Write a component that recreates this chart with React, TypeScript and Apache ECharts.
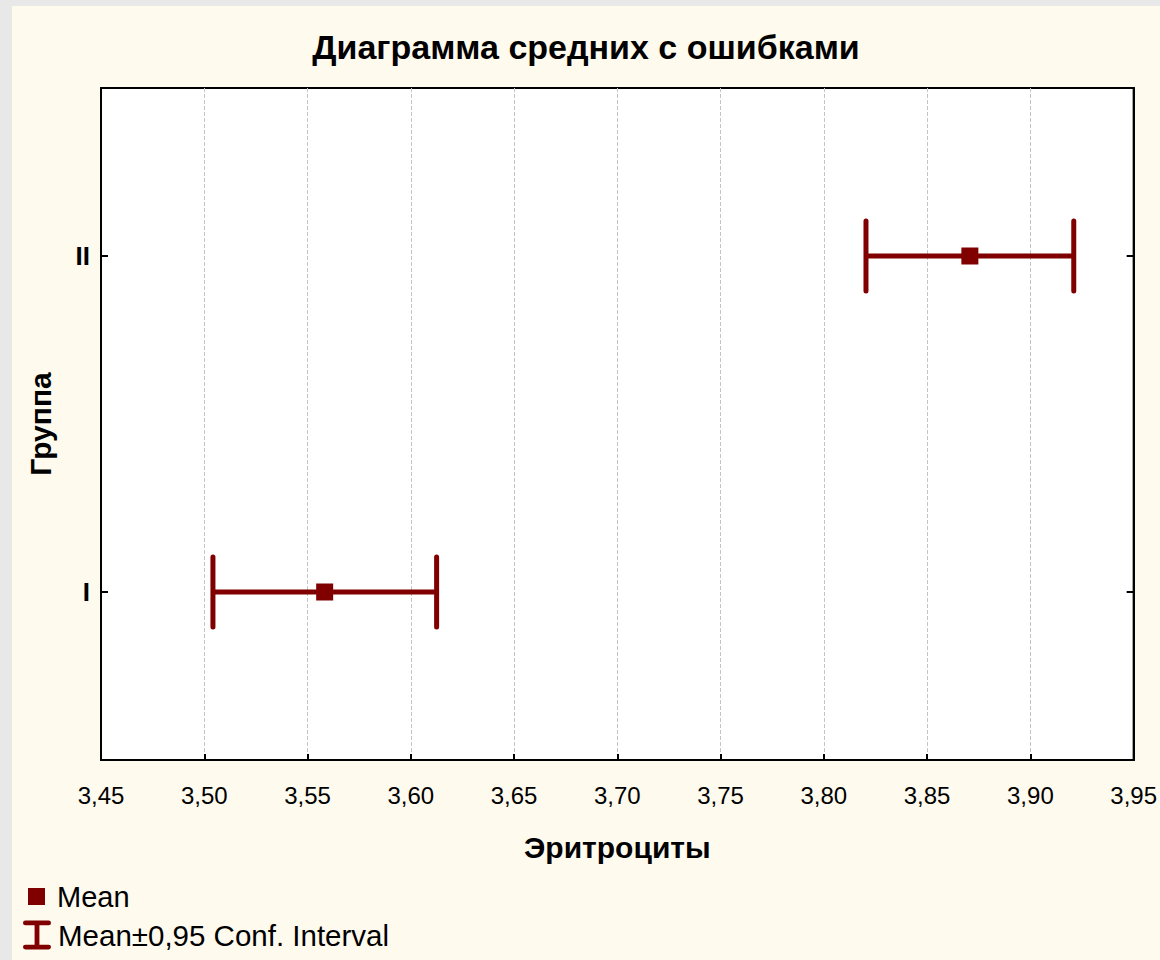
import React, { useEffect, useRef } from "react";
import * as echarts from "echarts";

const groups = ["I", "II"];
const means = [3.5583, 3.8707];
const lows = [3.5042, 3.8204];
const highs = [3.6125, 3.921];
const xMin = 3.45;
const xMax = 3.95;
const xStep = 0.05;

const RED = "#800000";
const FONT = "'Liberation Sans', Arial, sans-serif";

export default function App() {
  const ref = useRef<HTMLDivElement>(null);
  useEffect(() => {
    document.body.style.margin = "0";
    document.body.style.overflow = "hidden";
    document.documentElement.style.overflow = "hidden";
    if (!ref.current) return;
    const chart = echarts.init(ref.current, undefined, { renderer: "svg" });
    const option: any = {
      animation: false,
      backgroundColor: "#FFFAEE",
      textStyle: { fontFamily: FONT },
      title: {
        text: "Диаграмма средних с ошибками",
        left: "center",
        top: 19,
        textStyle: { fontSize: 34, fontWeight: "bold", color: "#000", fontFamily: FONT },
      },
      legend: [
        {
          data: [{ name: "Mean", icon: "rect" }],
          orient: "vertical",
          left: 11,
          top: 871,
          itemWidth: 17,
          itemHeight: 17,
          selectedMode: false,
          textStyle: { fontSize: 29, color: "#000", fontFamily: FONT, padding: [0, 0, 0, 7] },
        },
        {
          data: [
            {
              name: "Mean±0,95 Conf. Interval",
              icon: "path://M2,0H26A2,2 0 0 1 26,5H16.5V25H26A2,2 0 0 1 26,30H2A2,2 0 0 1 2,25H11.5V5H2A2,2 0 0 1 2,0Z",
            },
          ],
          orient: "vertical",
          left: 6,
          top: 909,
          itemWidth: 28,
          itemHeight: 30,
          selectedMode: false,
          textStyle: { fontSize: 29.5, color: "#000", fontFamily: FONT, padding: [0, 0, 0, 2] },
        },
      ],
      grid: {
        left: 89,
        top: 82,
        width: 1034,
        height: 672,
        show: true,
        backgroundColor: "#fff",
        borderColor: "#000",
        borderWidth: 2,
        containLabel: false,
      },
      xAxis: {
        type: "value",
        min: xMin,
        max: xMax,
        interval: xStep,
        name: "Эритроциты",
        nameLocation: "middle",
        nameGap: 72,
        nameTextStyle: { fontSize: 30, fontWeight: "bold", color: "#000", fontFamily: FONT },
        axisLine: { show: true, lineStyle: { color: "#000", width: 2 } },
        axisTick: { show: true, inside: true, length: 6, lineStyle: { color: "#000", width: 2 } },
        axisLabel: {
          fontSize: 24,
          color: "#000",
          margin: 23,
          fontFamily: FONT,
          formatter: (v: number) => v.toFixed(2).replace(".", ","),
        },
        splitLine: { show: true, lineStyle: { color: "#c4c4c4", type: "dashed", width: 1 } },
      },
      yAxis: [
        {
          type: "category",
          data: groups,
          name: "Группа",
          nameLocation: "middle",
          nameGap: 46,
          nameTextStyle: { fontSize: 30, fontWeight: "bold", color: "#000", fontFamily: FONT },
          axisLine: { show: true, lineStyle: { color: "#000", width: 2 } },
          axisTick: { show: true, inside: true, length: 7, alignWithLabel: true, lineStyle: { color: "#000", width: 2 } },
          axisLabel: { fontSize: 26, fontWeight: "bold", color: "#000", margin: 11, fontFamily: FONT },
          splitLine: { show: false },
        },
        {
          type: "category",
          data: groups,
          position: "right",
          axisLine: { show: true, lineStyle: { color: "#000", width: 2 } },
          axisTick: { show: true, inside: true, length: 7, alignWithLabel: true, lineStyle: { color: "#000", width: 2 } },
          axisLabel: { show: false },
          splitLine: { show: false },
        },
      ],
      series: [
        {
          name: "Mean±0,95 Conf. Interval",
          type: "custom",
          itemStyle: { color: RED },
          encode: { x: [0, 1], y: 2 },
          data: groups.map((g, i) => [lows[i], highs[i], i]),
          renderItem: (params: any, api: any) => {
            const lo = api.coord([api.value(0), api.value(2)]);
            const hi = api.coord([api.value(1), api.value(2)]);
            const h = 35;
            const style = { stroke: RED, lineWidth: 5, lineCap: "round" };
            return {
              type: "group",
              children: [
                { type: "line", shape: { x1: lo[0], y1: lo[1], x2: hi[0], y2: hi[1] }, style: { stroke: RED, lineWidth: 5 } },
                { type: "line", shape: { x1: lo[0], y1: lo[1] - h, x2: lo[0], y2: lo[1] + h }, style },
                { type: "line", shape: { x1: hi[0], y1: hi[1] - h, x2: hi[0], y2: hi[1] + h }, style },
              ],
            };
          },
          z: 2,
        },
        {
          name: "Mean",
          type: "scatter",
          symbol: "rect",
          symbolSize: 17,
          itemStyle: { color: RED, opacity: 1 },
          data: groups.map((g, i) => [means[i], g]),
          z: 3,
        },
      ],
    };
    chart.setOption(option);
    return () => chart.dispose();
  }, []);
  return (
    <div style={{ position: "fixed", left: 0, top: 0, width: 1160, height: 960, background: "#E8E8E8", overflow: "hidden" }}>
      <div ref={ref} style={{ position: "absolute", left: 12, top: 6, width: 1148, height: 954 }} />
    </div>
  );
}
